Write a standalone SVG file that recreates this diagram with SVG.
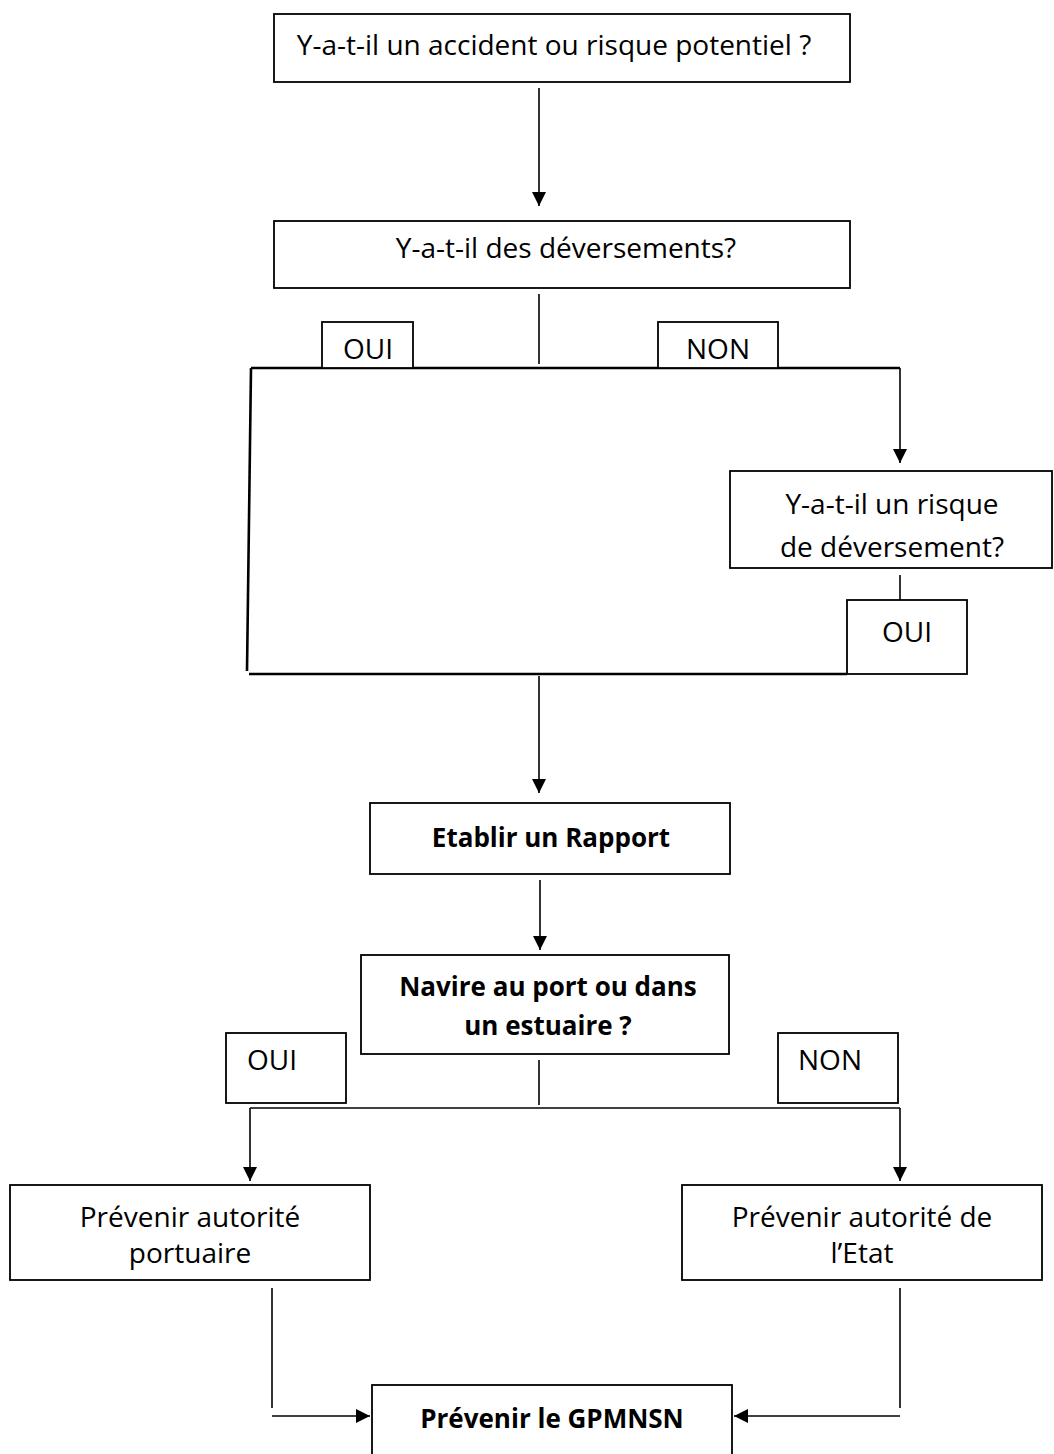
<svg xmlns="http://www.w3.org/2000/svg" width="1054" height="1454" viewBox="0 0 1054 1454">
<defs>
<marker id="ah" markerUnits="userSpaceOnUse" markerWidth="14" markerHeight="16" refX="14" refY="7" orient="auto">
<path d="M0,0 L14,7 L0,14 Z" fill="#000"/>
</marker>
<style>
.box{fill:#fff;stroke:#000;stroke-width:1.8}
.t{font-family:"Open Sans","Noto Sans","Liberation Sans",sans-serif;font-size:28px;fill:#000;text-anchor:middle}
.b{font-weight:bold;font-size:26px}
.c{fill:none;stroke:#000;stroke-width:1.6}
.a{fill:none;stroke:#000;stroke-width:1.6;marker-end:url(#ah)}
.h{stroke-width:2.6}
</style>
</defs>
<rect width="1054" height="1454" fill="#fff"/>
<g id="connectors">
<line class="a" x1="539" y1="88" x2="539" y2="206"/>
<line class="c" x1="539" y1="294" x2="539" y2="364"/>
<line class="c h" x1="251" y1="368" x2="900" y2="368"/>
<line class="c h" x1="251" y1="368" x2="247" y2="671"/>
<line class="a" x1="900" y1="368" x2="900" y2="463"/>
<line class="c" x1="900" y1="575" x2="900" y2="600"/>
<line class="c h" x1="249" y1="674" x2="847" y2="674"/>
<line class="a" x1="539" y1="676" x2="539" y2="793"/>
<line class="a" x1="540" y1="880" x2="540" y2="950"/>
<line class="c" x1="539" y1="1060" x2="539" y2="1105"/>
<line class="c" x1="250" y1="1108" x2="900" y2="1108"/>
<line class="a" x1="250" y1="1108" x2="250" y2="1181"/>
<line class="a" x1="900" y1="1108" x2="900" y2="1181"/>
<line class="c" x1="272" y1="1288" x2="272" y2="1408"/>
<line class="a" x1="272" y1="1416" x2="370" y2="1416"/>
<line class="c" x1="900" y1="1288" x2="900" y2="1408"/>
<line class="a" x1="900" y1="1416" x2="734" y2="1416"/>
</g>
<g id="q1"><rect class="box" x="274" y="14" width="576" height="68"/><text class="t" x="554" y="55">Y-a-t-il un accident ou risque potentiel ?</text></g>
<g id="q2"><rect class="box" x="274" y="221" width="576" height="67"/><text class="t" x="566" y="258">Y-a-t-il des déversements?</text></g>
<g id="oui1"><rect class="box" x="322" y="322" width="91" height="46"/><text class="t" x="368" y="359">OUI</text></g>
<g id="non1"><rect class="box" x="658" y="322" width="120" height="46"/><text class="t" x="718" y="359">NON</text></g>
<g id="q3"><rect class="box" x="730" y="471" width="322" height="97"/><text class="t" x="892" y="514">Y-a-t-il un risque</text><text class="t" x="892" y="557">de déversement?</text></g>
<g id="oui2"><rect class="box" x="847" y="600" width="120" height="74"/><text class="t" x="907" y="642">OUI</text></g>
<g id="rapport"><rect class="box" x="370" y="803" width="360" height="71"/><text class="t b" x="551" y="847">Etablir un Rapport</text></g>
<g id="navire"><rect class="box" x="361" y="955" width="368" height="99"/><text class="t b" x="548" y="996">Navire au port ou dans</text><text class="t b" x="548" y="1035">un estuaire ?</text></g>
<g id="oui3"><rect class="box" x="226" y="1033" width="120" height="70"/><text class="t" x="272" y="1070">OUI</text></g>
<g id="non3"><rect class="box" x="778" y="1033" width="120" height="70"/><text class="t" x="830" y="1070">NON</text></g>
<g id="portuaire"><rect class="box" x="10" y="1185" width="360" height="95"/><text class="t" x="190" y="1227">Prévenir autorité</text><text class="t" x="190" y="1263">portuaire</text></g>
<g id="etat"><rect class="box" x="682" y="1185" width="360" height="95"/><text class="t" x="862" y="1227">Prévenir autorité de</text><text class="t" x="862" y="1263">l’Etat</text></g>
<g id="gpmnsn"><rect class="box" x="372" y="1385" width="360" height="80"/><text class="t b" x="552" y="1428">Prévenir le GPMNSN</text></g>
</svg>
